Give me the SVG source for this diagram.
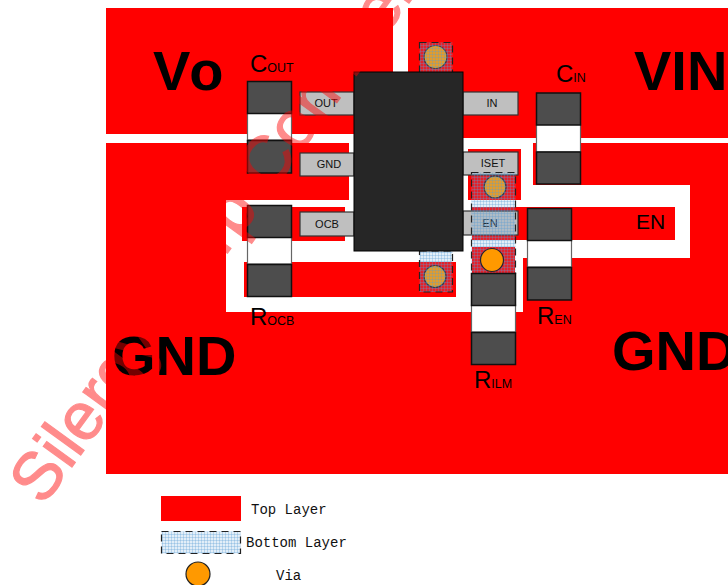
<svg xmlns="http://www.w3.org/2000/svg" width="728" height="585" viewBox="0 0 728 585">
<style>
.t{fill:#f00}
.cap{fill:#4d4d4d;stroke:#111;stroke-width:1.5}
.mid{fill:#fff;stroke:#666;stroke-width:1.2}
.pin{fill:#bfbfbf;stroke:#333;stroke-width:1.2}
.pl{font:11px "Liberation Sans",Arial,sans-serif;fill:#111;text-anchor:middle}
.big{font:bold 56px "Liberation Sans",Arial,sans-serif;fill:#000}
.c1{font:24px "Liberation Sans",Arial,sans-serif;fill:#000}
.c2{font-size:12.5px}
.en{font:21px "Liberation Sans",Arial,sans-serif;fill:#000}
.bd{fill:url(#h);stroke:#222;stroke-width:1.2;stroke-dasharray:7 5}
.v{fill:#f90;stroke:#223;stroke-width:1.2}
.lg{font:14px "Liberation Mono","DejaVu Sans Mono",monospace;fill:#111}
.wm{font:67px "Liberation Sans",Arial,sans-serif;fill:#f00;stroke:#f00;stroke-width:1.2;opacity:.45}
</style>
<defs>
<pattern id="h" width="3" height="3" patternUnits="userSpaceOnUse"><rect width="3" height="3" fill="#6fa8dc" fill-opacity=".2"/><path d="M0 .5H3M.5 0V3" stroke="#5b9bd5" stroke-opacity=".3" stroke-width="1"/></pattern>
</defs>
<g id="top-layer">
<rect class="t" x="106" y="8" width="287" height="126"/>
<rect class="t" x="408" y="8" width="320" height="130"/>
<rect class="t" x="106" y="143" width="622" height="331"/>
<path fill="#fff" d="M226 200H349V143H533V185H690V258H523V312H226Z"/>
<rect class="t" x="468" y="149" width="53" height="51"/>
<rect class="t" x="472" y="207" width="203" height="33"/>
<rect class="t" x="472" y="247" width="43" height="26"/>
<rect class="t" x="244" y="262" width="212" height="35"/>
<rect class="t" x="242" y="207" width="103" height="34"/>
</g>
<g id="pin-out"><rect class="pin" x="300" y="92" width="54" height="23"/><text class="pl" x="326" y="107">OUT</text></g>
<g id="pin-gnd"><rect class="pin" x="300" y="153" width="54" height="23"/><text class="pl" x="329" y="168">GND</text></g>
<g id="pin-ocb"><rect class="pin" x="300" y="212" width="54" height="24"/><text class="pl" x="327" y="228">OCB</text></g>
<g id="pin-in"><rect class="pin" x="463" y="92" width="55" height="23"/><text class="pl" x="492" y="107">IN</text></g>
<g id="pin-iset"><rect class="pin" x="463" y="152" width="55" height="23"/><text class="pl" x="493" y="167">ISET</text></g>
<g id="pin-en"><rect class="pin" x="463" y="211" width="55" height="24"/><text class="pl" x="490" y="227">EN</text></g>
<g id="vias-under">
<circle class="v" cx="435.500" cy="57" r="11.500"/>
<circle class="v" cx="495" cy="187" r="11"/>
<circle class="v" cx="435" cy="276.500" r="11"/>
</g>
<g id="bottom-layer">
<rect class="bd" x="419.500" y="42.500" width="33" height="30"/>
<rect class="bd" x="471.500" y="172.500" width="44" height="101"/>
<rect class="bd" x="419.500" y="251" width="33" height="41"/>
</g>
<g id="via-top"><circle class="v" cx="492" cy="260" r="11.500"/></g>
<g id="ic"><rect x="354" y="72" width="109" height="179" fill="#262626" stroke="#000" stroke-width="1"/></g>
<g id="cout"><rect class="mid" x="247.500" y="113" width="44" height="27"/><rect class="cap" x="247.500" y="81.500" width="44" height="32"/><rect class="cap" x="247.500" y="140.500" width="44" height="32.500"/></g>
<g id="cin"><rect class="mid" x="536.500" y="124" width="44" height="28"/><rect class="cap" x="536.500" y="93" width="44" height="32"/><rect class="cap" x="536.500" y="152" width="44" height="32"/></g>
<g id="rocb"><rect class="mid" x="247.500" y="237" width="44" height="27"/><rect class="cap" x="247.500" y="205.500" width="44" height="32"/><rect class="cap" x="247.500" y="264.500" width="44" height="32"/></g>
<g id="ren"><rect class="mid" x="527.500" y="240" width="44" height="27"/><rect class="cap" x="527.500" y="208.500" width="44" height="32"/><rect class="cap" x="527.500" y="267.500" width="44" height="32.500"/></g>
<g id="rilm"><rect class="mid" x="471.500" y="305" width="44" height="27"/><rect class="cap" x="471.500" y="273.500" width="44" height="32"/><rect class="cap" x="471.500" y="332.500" width="44" height="32"/></g>
<g id="labels">
<text class="big" x="153" y="90" letter-spacing="3">Vo</text>
<text class="big" x="634" y="90">VIN</text>
<text class="big" x="112" y="375">GND</text>
<text class="big" x="612" y="370">GND</text>
<text class="c1" x="250" y="72">C<tspan class="c2">OUT</tspan></text>
<text class="c1" x="556" y="82">C<tspan class="c2">IN</tspan></text>
<text class="c1" x="250" y="325">R<tspan class="c2">OCB</tspan></text>
<text class="c1" x="537" y="324">R<tspan class="c2">EN</tspan></text>
<text class="c1" x="474" y="388">R<tspan class="c2">ILM</tspan></text>
<text class="en" x="636" y="229">EN</text>
</g>
<g id="legend">
<rect class="t" x="161" y="496" width="80" height="25"/>
<rect class="bd" x="161.500" y="531.500" width="79" height="22"/>
<circle cx="198" cy="574" r="12" fill="#f90" stroke="#222" stroke-width="1.2"/>
<text class="lg" x="251" y="514">Top Layer</text>
<text class="lg" x="246" y="547">Bottom Layer</text>
<text class="lg" x="276" y="580">Via</text>
</g>
<text class="wm" transform="translate(43 507) rotate(-54)">Silergy Corp Confidential</text>
</svg>
